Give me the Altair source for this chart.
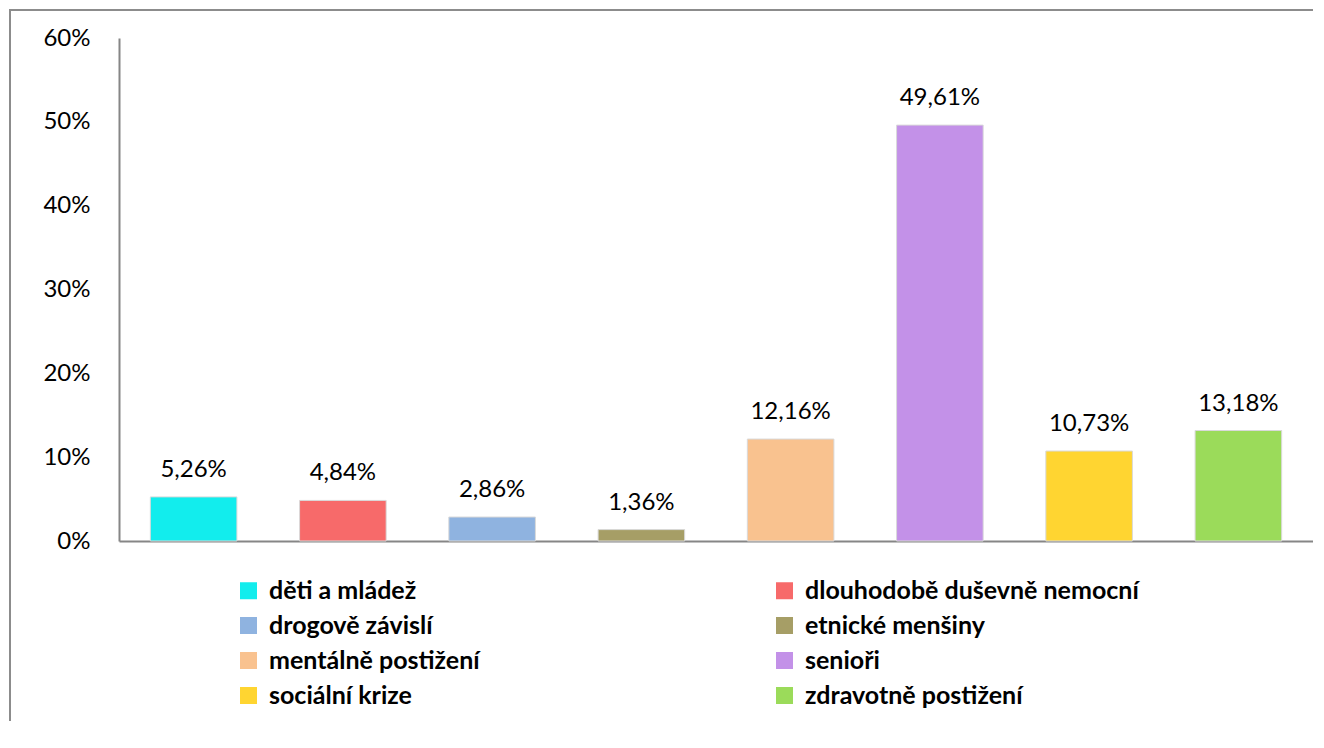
import altair as alt
import pandas as pd

categories = [
    "děti a mládež",
    "dlouhodobě duševně nemocní",
    "drogově závislí",
    "etnické menšiny",
    "mentálně postižení",
    "senioři",
    "sociální krize",
    "zdravotně postižení",
]
values = [5.26, 4.84, 2.86, 1.36, 12.16, 49.61, 10.73, 13.18]
colors = ["#12EDED", "#F76A6A", "#8FB3E0", "#A69E66", "#F9C28F", "#C391E8", "#FFD531", "#9BDB5A"]
y_ticks = [0, 10, 20, 30, 40, 50, 60]

df = pd.DataFrame({"kat": categories, "v": values})

FONT = "Lato"

xenc = alt.X(
    "kat:N",
    sort=categories,
    scale=alt.Scale(paddingInner=0.42, paddingOuter=0.21),
    axis=alt.Axis(labels=False, ticks=False, title=None, domainColor="#868686", domainWidth=2),
)
yenc = alt.Y(
    "v:Q",
    scale=alt.Scale(domain=[0, 60]),
    axis=alt.Axis(
        values=y_ticks,
        labelExpr="datum.value + '%'",
        title=None,
        ticks=False,
        grid=False,
        domainColor="#868686",
        domainWidth=2,
        labelPadding=29,
        labelFontSize=24,
        labelFont=FONT,
        labelColor="#000000",
    ),
)

bars = alt.Chart(df).mark_bar(stroke="#D9D9D9", strokeWidth=1).encode(
    x=xenc,
    y=yenc,
    color=alt.Color(
        "kat:N",
        sort=categories,
        scale=alt.Scale(domain=categories, range=colors),
        legend=alt.Legend(
            title=None,
            orient="none",
            direction="horizontal",
            legendX=117,
            legendY=540,
            columns=2,
            columnPadding=292,
            rowPadding=9,
            symbolType="square",
            symbolSize=289,
            symbolStrokeWidth=0,
            labelFont=FONT,
            labelFontSize=25,
            labelFontWeight="bold",
            labelColor="#000000",
            labelOffset=8,
            labelLimit=500,
            padding=0,
        ),
    ),
)

labels = alt.Chart(df).transform_calculate(
    lab="replace(format(datum.v, '.2f'), '.', ',') + '%'"
).mark_text(fontSize=24, font=FONT, color="#000000", baseline="alphabetic", dy=-20).encode(
    x=alt.X("kat:N", sort=categories),
    y=alt.Y("v:Q"),
    text="lab:N",
)

frame_df = pd.DataFrame({"a": [0]})
border_left = alt.Chart(frame_df).mark_rule(stroke="#8C8C8C", strokeWidth=2).encode(
    x=alt.value(-109), y=alt.value(-28), y2=alt.value(800)
)
border_top = alt.Chart(frame_df).mark_rule(stroke="#8C8C8C", strokeWidth=2).encode(
    x=alt.value(-110), x2=alt.value(1400), y=alt.value(-28)
)

chart = alt.layer(border_left, border_top, bars, labels).properties(
    width=1194,
    height=503,
    padding={"left": 111, "top": 30, "right": 0, "bottom": 180},
    autosize=alt.AutoSizeParams(type="none"),
).configure_view(stroke=None)

chart.save("out.html", embed_options={"renderer": "svg", "actions": False})
